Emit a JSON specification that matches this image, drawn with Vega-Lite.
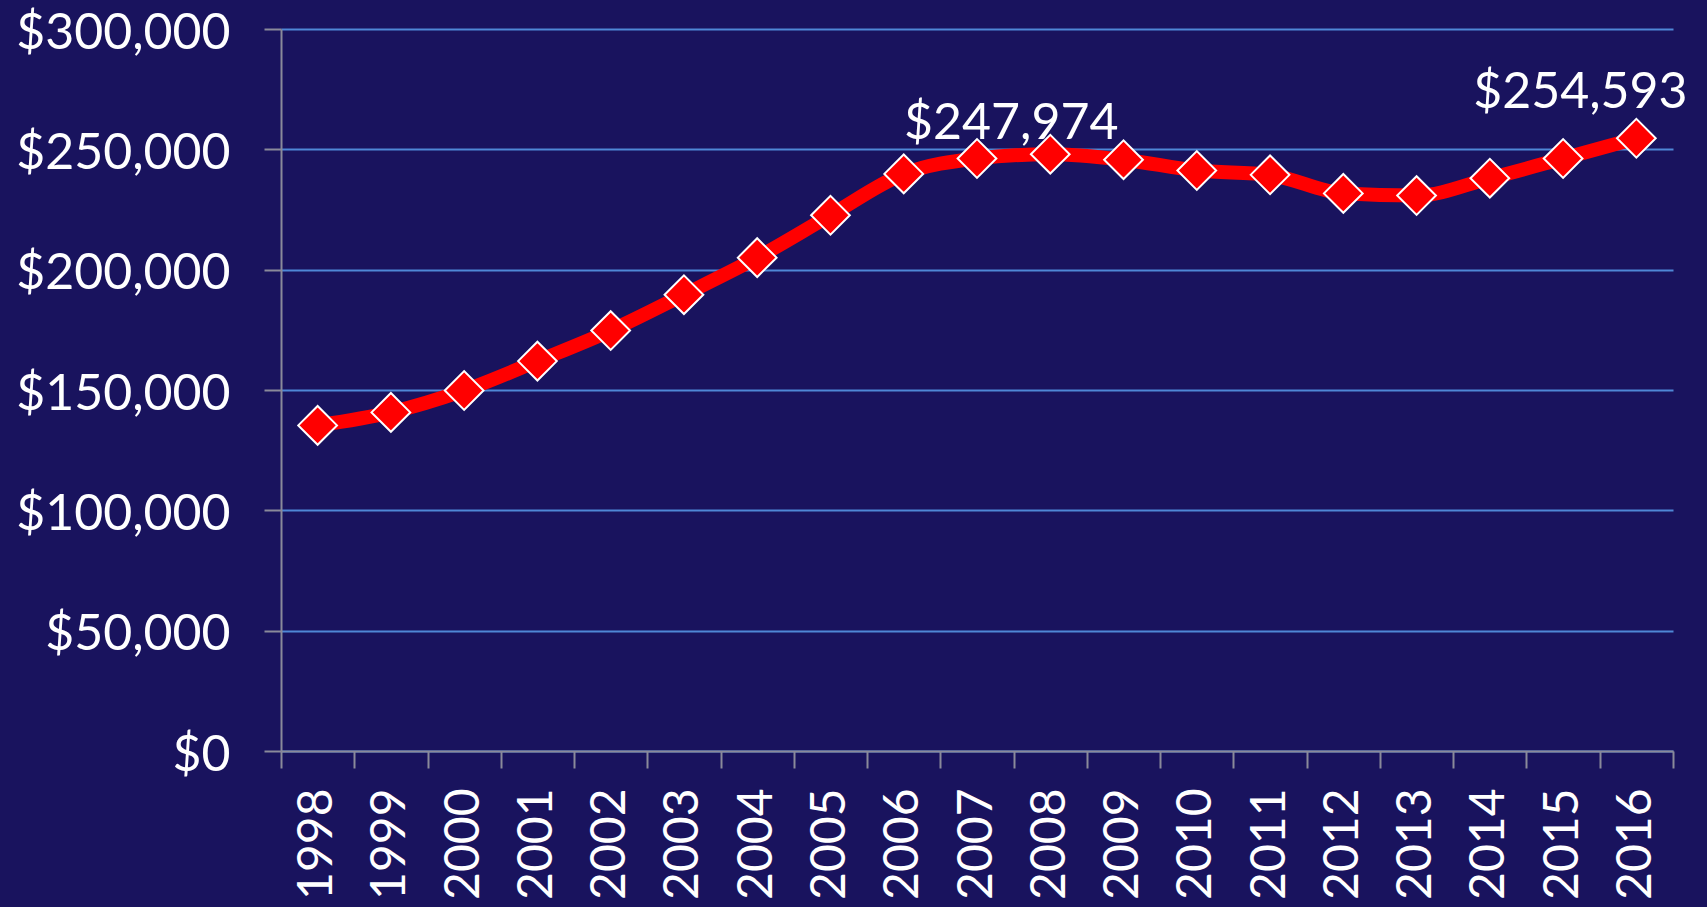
{
  "$schema": "https://vega.github.io/schema/vega-lite/v6.json",
  "width": 1392,
  "height": 722,
  "autosize": {"type": "none"},
  "padding": {"left": 281, "top": 29, "right": 34, "bottom": 156},
  "background": "#19135e",
  "config": {
    "view": {"stroke": null},
    "font": "Lato",
    "axis": {
      "labelFont": "Lato",
      "labelColor": "#ffffff",
      "labelLimit": 0,
      "domainColor": "#8a8a9a",
      "tickColor": "#8a8a9a",
      "domainWidth": 2,
      "tickWidth": 2,
      "tickSize": 17,
      "title": null
    }
  },
  "data": {
    "values": [
      {"year": "1998", "price": 135300},
      {"year": "1999", "price": 140700},
      {"year": "2000", "price": 149800},
      {"year": "2001", "price": 162000},
      {"year": "2002", "price": 174700},
      {"year": "2003", "price": 189600},
      {"year": "2004", "price": 205000},
      {"year": "2005", "price": 222600},
      {"year": "2006", "price": 239800},
      {"year": "2007", "price": 246200},
      {"year": "2008", "price": 247974},
      {"year": "2009", "price": 245700},
      {"year": "2010", "price": 241200},
      {"year": "2011", "price": 239400},
      {"year": "2012", "price": 231700},
      {"year": "2013", "price": 230800},
      {"year": "2014", "price": 238000},
      {"year": "2015", "price": 246200},
      {"year": "2016", "price": 254593}
    ]
  },
  "encoding": {
    "x": {
      "field": "year",
      "type": "ordinal",
      "bandPosition": 0.5,
      "scale": {"type": "band", "paddingInner": 0, "paddingOuter": 0},
      "axis": {
        "labelAngle": 270,
        "labelFontSize": 48,
        "labelPadding": 20,
        "tickBand": "extent",
        "grid": false
      }
    },
    "y": {
      "field": "price",
      "type": "quantitative",
      "scale": {"domain": [0, 300000], "nice": false, "zero": true},
      "axis": {
        "values": [0, 50000, 100000, 150000, 200000, 250000, 300000],
        "format": "$,.0f",
        "labelFontSize": 50,
        "labelPadding": 34,
        "labelOffset": 4,
        "grid": true,
        "gridColor": "#4f87d6",
        "gridWidth": 2
      }
    }
  },
  "layer": [
    {
      "mark": {"type": "line", "color": "#ff0000", "strokeWidth": 14, "interpolate": "monotone"}
    },
    {
      "mark": {"type": "point", "shape": "diamond", "filled": true, "fill": "#ff0000", "stroke": "#ffffff", "strokeWidth": 2, "size": 1500, "opacity": 1}
    },
    {
      "transform": [{"filter": "datum.year == '2008'"}],
      "mark": {"type": "text", "color": "#ffffff", "fontSize": 50, "dx": -39, "dy": -15, "baseline": "alphabetic", "align": "center"},
      "encoding": {"text": {"field": "price", "type": "quantitative", "format": "$,.0f"}}
    },
    {
      "transform": [{"filter": "datum.year == '2016'"}],
      "mark": {"type": "text", "color": "#ffffff", "fontSize": 50, "dx": -56, "dy": -30, "baseline": "alphabetic", "align": "center"},
      "encoding": {"text": {"field": "price", "type": "quantitative", "format": "$,.0f"}}
    }
  ]
}
